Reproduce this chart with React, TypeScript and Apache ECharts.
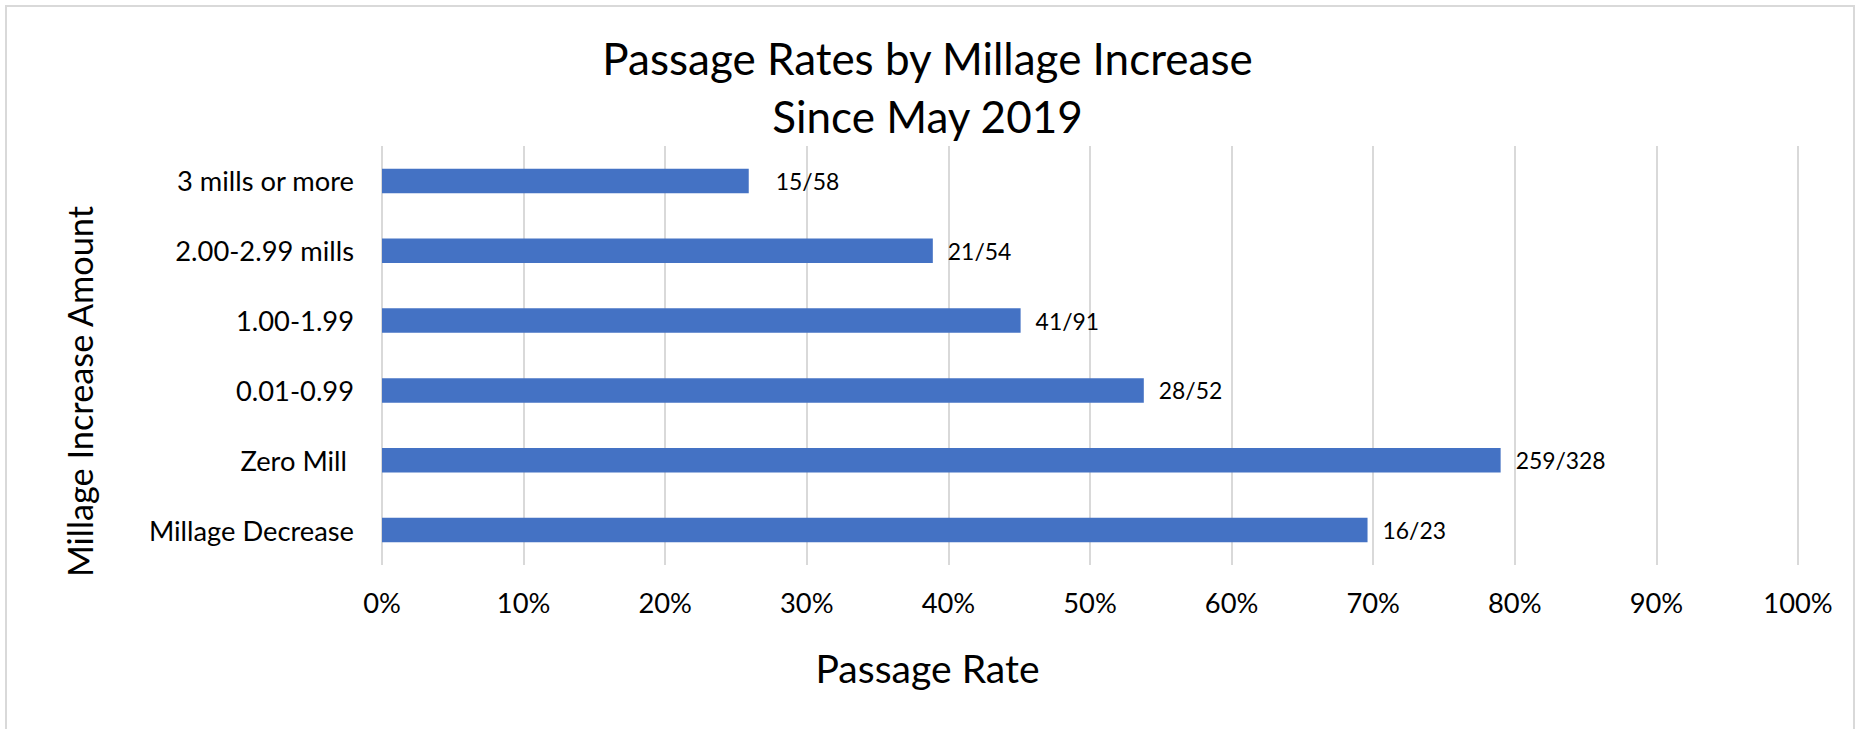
import React, { useEffect, useRef } from "react";
import * as echarts from "echarts";

// ---- data ----
const categories = [
  "3 mills or more",
  "2.00-2.99 mills",
  "1.00-1.99",
  "0.01-0.99",
  "Zero Mill ",
  "Millage Decrease",
];
const passageRates = [25.9, 38.9, 45.1, 53.8, 79.0, 69.6];
const passedOfTotal = ["15/58", "21/54", "41/91", "28/52", "259/328", "16/23"];
const xTicks = [0, 10, 20, 30, 40, 50, 60, 70, 80, 90, 100];

const titleLines = ["Passage Rates by Millage Increase", "Since May 2019"];
const xAxisName = "Passage Rate";
const yAxisName = "Millage Increase Amount";

const FONT = "Lato";

function fitSize(text: string, target: number): number {
  const ctx = document.createElement("canvas").getContext("2d");
  if (!ctx) return 20;
  ctx.font = `normal 100px ${FONT}`;
  const w = ctx.measureText(text).width;
  return Math.round((target / w) * 1000) / 10;
}

export default function App() {
  const ref = useRef<HTMLDivElement>(null);

  useEffect(() => {
    if (!ref.current) return;
    const chart = echarts.init(ref.current, undefined, { renderer: "svg" });

    const W = 1855;
    const H = 729;
    const titleSize = fitSize(titleLines[0], 652);
    const tickSize = fitSize("Millage Decrease", 205);
    const dataSize = fitSize("259/328", 90);
    const xNameSize = fitSize(xAxisName, 224);
    const yNameSize = fitSize(yAxisName, 372);

    const gridTop = 146;
    const gridBottom = 565;
    const gridLeft = 382;
    const gridRight = 1798;

    const tickLH = Math.round(tickSize * 1.2);
    const xNameLH = Math.round(xNameSize * 1.2);
    const yNameLH = Math.round(yNameSize * 1.2);

    // the x axis title is centred on the whole chart, not on the plot
    const xNameShift = 2 * ((gridLeft + gridRight) / 2 - W / 2);

    chart.setOption({
      animation: false,
      backgroundColor: "#ffffff",
      title: {
        text: titleLines.join("\n"),
        left: "center",
        top: 24,
        textStyle: {
          fontFamily: FONT,
          fontWeight: "normal",
          fontSize: titleSize,
          lineHeight: 58,
          color: "#000000",
        },
      },
      grid: {
        left: gridLeft,
        right: W - gridRight,
        top: gridTop,
        bottom: H - gridBottom,
        containLabel: false,
      },
      xAxis: {
        type: "value",
        min: xTicks[0],
        max: xTicks[xTicks.length - 1],
        interval: xTicks[1] - xTicks[0],
        axisLine: { show: false },
        axisTick: { show: false },
        splitLine: { show: true, lineStyle: { color: "#d9d9d9", width: 2 } },
        axisLabel: {
          formatter: "{value}%",
          fontFamily: FONT,
          fontSize: tickSize,
          lineHeight: tickLH,
          color: "#000000",
          margin: Math.round(602 - gridBottom - tickLH / 2),
        },
        name: xAxisName,
        nameLocation: "middle",
        nameGap: Math.round(667 - gridBottom - xNameLH / 2),
        nameTextStyle: {
          fontFamily: FONT,
          fontSize: xNameSize,
          lineHeight: xNameLH,
          color: "#000000",
          padding: [0, xNameShift, 0, 0],
        },
      },
      yAxis: {
        type: "category",
        data: categories,
        inverse: true,
        axisLine: { show: false },
        axisTick: { show: false },
        splitLine: { show: false },
        axisLabel: {
          fontFamily: FONT,
          fontSize: tickSize,
          color: "#000000",
          margin: 28,
        },
        name: yAxisName,
        nameLocation: "middle",
        nameRotate: 90,
        nameGap: Math.round(gridLeft - 80 - yNameLH / 2),
        nameTextStyle: {
          fontFamily: FONT,
          fontSize: yNameSize,
          lineHeight: yNameLH,
          color: "#000000",
          padding: [0, 72, 0, 0],
        },
      },
      graphic: [
        {
          type: "rect",
          shape: { x: 6, y: 6, width: 1848, height: 760 },
          style: { fill: "none", stroke: "#d9d9d9", lineWidth: 2 },
          silent: true,
          z: -1,
        },
      ],
      series: [
        {
          type: "bar",
          barWidth: "35%",
          itemStyle: { color: "#4472C4" },
          data: passageRates.map((v, i) => ({
            value: v,
            label: { distance: i === 0 ? 27 : 15 },
          })),
          label: {
            show: true,
            position: "right",
            fontFamily: FONT,
            fontSize: dataSize,
            color: "#000000",
            formatter: (p: any) => passedOfTotal[p.dataIndex],
          },
        },
      ],
    });

    return () => chart.dispose();
  }, []);

  return (
    <div
      ref={ref}
      style={{
        position: "fixed",
        left: 0,
        top: 0,
        width: 1855,
        height: 729,
        background: "#ffffff",
      }}
    />
  );
}
